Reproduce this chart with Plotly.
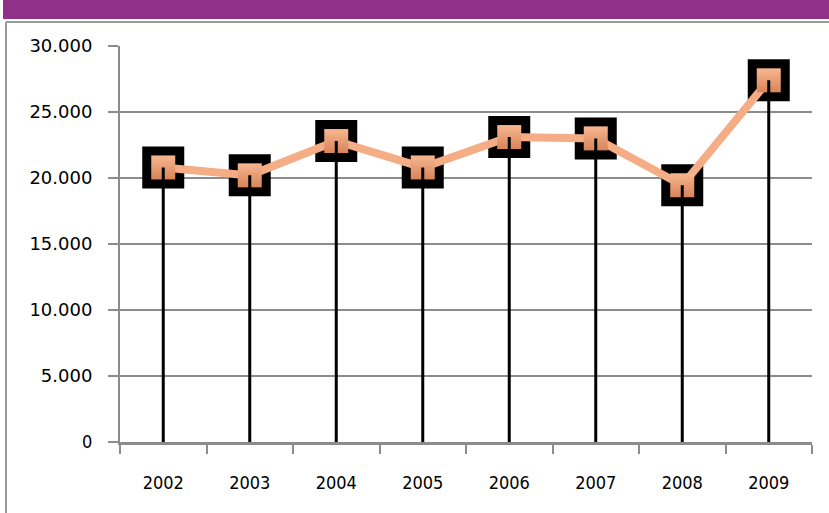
import plotly.graph_objects as go

years = ["2002", "2003", "2004", "2005", "2006", "2007", "2008", "2009"]
values = [20800, 20200, 22800, 20800, 23100, 23000, 19450, 27400]
y_ticks = [0, 5000, 10000, 15000, 20000, 25000, 30000]
y_ticktext = ['<span style="font-family:\'DejaVu Sans Condensed\', sans-serif;font-size:18px">0</span>',
              "5.000", "10.000", "15.000", "20.000", "25.000", "30.000"]

W, H = 829, 513
L, R, T, B = 120, 17, 46, 71
pw, ph = W - L - R, H - T - B

def px(x):
    return (x - L) / pw

def py(y):
    return 1 - (y - T) / ph

fig = go.Figure()

# black square shadows
fig.add_trace(go.Scatter(
    x=years, y=values, mode="markers",
    marker=dict(symbol="square", size=42, color="black", line=dict(width=0)),
    hoverinfo="skip", showlegend=False))

# orange line with square markers
fig.add_trace(go.Scatter(
    x=years, y=values, mode="lines+markers",
    line=dict(color="#F5AD85", width=8),
    marker=dict(symbol="square", size=24, color="#F7B790",
                gradient=dict(type="vertical", color="#D8845A"),
                line=dict(width=0)),
    showlegend=False))

# drop lines
dx, dy = [], []
for yr, v in zip(years, values):
    dx += [yr, yr, None]
    dy += [v, 0, None]
fig.add_trace(go.Scatter(
    x=dx, y=dy, mode="lines", line=dict(color="black", width=3),
    hoverinfo="skip", showlegend=False))

fig.update_layout(
    width=W, height=H,
    margin=dict(l=L, r=R, t=T, b=B),
    paper_bgcolor="white", plot_bgcolor="white",
    separators=",.",
    font=dict(family="DejaVu Sans, sans-serif", size=18, color="black"),
    xaxis=dict(
        type="category", categoryorder="array", categoryarray=years,
        tickson="boundaries", ticks="outside", ticklen=9, tickwidth=2,
        tickcolor="#8C8C8C", showline=True, linecolor="#8C8C8C", linewidth=3,
        showgrid=False, range=[-0.5, 7.5], ticklabelstandoff=22,
        tickfont=dict(family="DejaVu Sans Condensed, sans-serif", size=18)),
    yaxis=dict(
        range=[0, 30000], tickvals=y_ticks, ticktext=y_ticktext,
        ticks="outside", ticklen=10, tickwidth=2, tickcolor="#8C8C8C",
        showline=True, linecolor="#8C8C8C", linewidth=2,
        showgrid=True, gridcolor="#8C8C8C", gridwidth=2, zeroline=False,
        ticklabelstandoff=12, tickfont=dict(size=18)),
    shapes=[
        dict(type="rect", xref="paper", yref="paper",
             x0=px(3), x1=px(829), y0=py(0), y1=py(19),
             fillcolor="#8F3188", line=dict(width=0), layer="above"),
        dict(type="line", xref="paper", yref="paper",
             x0=px(6), x1=px(829), y0=py(22), y1=py(22),
             line=dict(color="#9A9A9A", width=2)),
        dict(type="line", xref="paper", yref="paper",
             x0=px(6), x1=px(6), y0=py(22), y1=py(513),
             line=dict(color="#9A9A9A", width=2)),
    ],
)

fig.write_html("out.html", config={"displayModeBar": False},
               post_script="document.body.style.margin='0';document.body.style.overflow='hidden';")
